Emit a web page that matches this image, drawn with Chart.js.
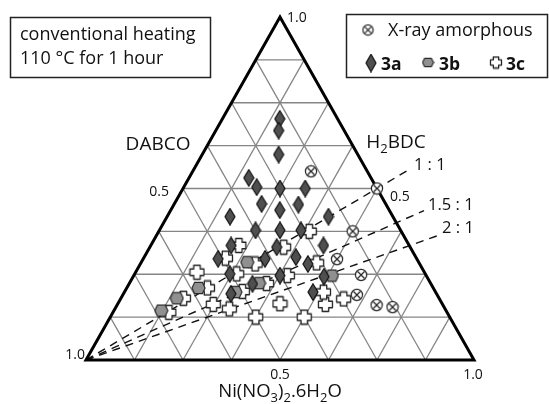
<!DOCTYPE html>
<html>
<head>
<meta charset="utf-8">
<script src="https://cdn.jsdelivr.net/npm/chart.js@4/dist/chart.umd.min.js"></script>
<style>
  html, body { margin: 0; padding: 0; background: #fff; }
  #wrap { width: 549px; height: 404px; position: relative; }
</style>
</head>
<body>
<div id="wrap"><canvas id="c" width="549" height="404"></canvas></div>
<script>
// Compositions as [Ni(NO3)2·6H2O, H2BDC] mole fractions; DABCO = 1 - Ni - H2BDC
const sample3a = [
  [0.148, 0.703], [0.162, 0.669], [0.197, 0.599], [0.154, 0.531], [0.188, 0.504],
  [0.250, 0.500], [0.315, 0.500], [0.225, 0.455], [0.281, 0.437], [0.321, 0.453],
  [0.162, 0.418], [0.416, 0.418], [0.248, 0.378], [0.311, 0.378], [0.365, 0.378],
  [0.207, 0.334], [0.327, 0.329], [0.445, 0.334], [0.193, 0.295], [0.314, 0.295],
  [0.391, 0.300], [0.432, 0.280], [0.245, 0.251], [0.377, 0.246], [0.492, 0.243],
  [0.318, 0.222], [0.277, 0.193], [0.486, 0.198]
];
const sample3b = [
  [0.273, 0.285], [0.334, 0.224], [0.286, 0.198], [0.511, 0.246],
  [0.185, 0.210], [0.144, 0.180], [0.122, 0.144]
];
const sample3c = [
  [0.158, 0.256], [0.208, 0.210], [0.161, 0.180], [0.144, 0.139], [0.247, 0.162],
  [0.295, 0.149], [0.375, 0.125], [0.500, 0.125], [0.418, 0.164], [0.536, 0.162],
  [0.575, 0.178], [0.263, 0.251], [0.303, 0.200], [0.354, 0.223], [0.396, 0.246],
  [0.296, 0.280], [0.211, 0.297], [0.227, 0.334], [0.345, 0.329], [0.388, 0.375],
  [0.453, 0.283], [0.513, 0.198]
];
const amorphous = [
  [0.305, 0.550], [0.500, 0.500], [0.500, 0.375], [0.500, 0.294],
  [0.585, 0.248], [0.603, 0.190], [0.669, 0.160], [0.713, 0.154]
];

// Grid every 1/8 along each component
const gridTicks = [0.125, 0.25, 0.375, 0.5, 0.625, 0.75, 0.875];

// Ni : H2BDC ratio guides drawn from the DABCO corner
const ratioValues = [1, 1.5, 2];
const ratioLabels = ['1 : 1', '1.5 : 1', '2 : 1'];
const ratioReach = [1.113, 1.089, 1.089];

// Corner / edge tick labels
const cornerLabel = '1.0';
const halfLabel = '0.5';

const axisNames = { ni: 'Ni(NO3)2.6H2O', dabco: 'DABCO', bdc: 'H2BDC' };
const legendNames = ['X-ray amorphous', '3a', '3b', '3c'];
const conditionLines = ['conventional heating', '110 \u00B0C for 1 hour'];

// ternary -> cartesian (base = 1, height = 1 on the plot scales)
function toXY(p) { return { x: p[0] + p[1] / 2, y: p[1] }; }
function seg(a, b) { return [toXY(a), toXY(b)]; }

// ---- marker images ----
function makeCanvas(w, h, draw) {
  const c = document.createElement('canvas');
  c.width = w; c.height = h;
  draw(c.getContext('2d'));
  return c;
}
function diamond(w, h) {
  return makeCanvas(w, h, ctx => {
    ctx.beginPath();
    ctx.moveTo(w / 2, 0.8); ctx.lineTo(w - 1, h / 2); ctx.lineTo(w / 2, h - 0.8); ctx.lineTo(1, h / 2);
    ctx.closePath();
    ctx.fillStyle = '#4f4f4f'; ctx.fill();
    ctx.lineWidth = 1.2; ctx.strokeStyle = '#111'; ctx.stroke();
  });
}
function hexagon(w, h) {
  return makeCanvas(w, h, ctx => {
    const q = w * 0.24;
    ctx.beginPath();
    ctx.moveTo(1, h / 2); ctx.lineTo(q, 1.3); ctx.lineTo(w - q, 1.3);
    ctx.lineTo(w - 1, h / 2); ctx.lineTo(w - q, h - 1.3); ctx.lineTo(q, h - 1.3);
    ctx.closePath();
    ctx.fillStyle = '#909090'; ctx.fill();
    ctx.lineWidth = 1.2; ctx.strokeStyle = '#2a2a2a'; ctx.stroke();
  });
}
function plusMark(s) {
  return makeCanvas(s, s, ctx => {
    const c = s / 2, h = s / 2 - 1.5, a = s * 0.19;
    ctx.beginPath();
    ctx.moveTo(c - a, c - h); ctx.lineTo(c + a, c - h); ctx.lineTo(c + a, c - a);
    ctx.lineTo(c + h, c - a); ctx.lineTo(c + h, c + a); ctx.lineTo(c + a, c + a);
    ctx.lineTo(c + a, c + h); ctx.lineTo(c - a, c + h); ctx.lineTo(c - a, c + a);
    ctx.lineTo(c - h, c + a); ctx.lineTo(c - h, c - a); ctx.lineTo(c - a, c - a);
    ctx.closePath();
    ctx.fillStyle = '#fff'; ctx.fill();
    ctx.lineJoin = 'round';
    ctx.lineWidth = 1.3; ctx.strokeStyle = '#222'; ctx.stroke();
  });
}
function otimes(s) {
  return makeCanvas(s, s, ctx => {
    const c = s / 2, r = s / 2 - 1.4, k = r * 0.62;
    ctx.beginPath(); ctx.arc(c, c, r, 0, Math.PI * 2);
    ctx.fillStyle = '#fff'; ctx.fill();
    ctx.lineWidth = 1.2; ctx.strokeStyle = '#222'; ctx.stroke();
    ctx.beginPath();
    ctx.moveTo(c - k, c - k); ctx.lineTo(c + k, c + k);
    ctx.moveTo(c + k, c - k); ctx.lineTo(c - k, c + k);
    ctx.stroke();
  });
}
const diamondImg = diamond(12, 18);
const hexImg = hexagon(15, 14);
const crossImg = plusMark(17);
const otimesImg = otimes(14);
const legDiamond = diamond(12, 19);
const legHex = hexagon(13, 11);
const legCross = plusMark(14);
const legOtimes = otimes(13);

// ---- datasets ----
const datasets = [];
function lineSet(points, color, width, dash, order) {
  datasets.push({
    data: points, showLine: true, borderColor: color, borderWidth: width,
    borderDash: dash || [], pointRadius: 0, fill: false, tension: 0,
    clip: false, order: order
  });
}
gridTicks.forEach(v => {
  lineSet(seg([0, v], [1 - v, v]), '#858585', 1.3, null, 30);
  lineSet(seg([v, 0], [v, 1 - v]), '#858585', 1.3, null, 30);
  lineSet(seg([1 - v, 0], [0, 1 - v]), '#858585', 1.3, null, 30);
});
ratioValues.forEach((r, i) => {
  const ni = r / (r + 1), bdc = 1 / (r + 1), s = ratioReach[i];
  lineSet(seg([0, 0], [ni * s, bdc * s]), '#111', 1.4, [8, 6], 20);
});
lineSet([toXY([0, 0]), toXY([1, 0]), toXY([0, 1]), toXY([0, 0]), toXY([1, 0])], '#000', 3, null, 15);

function markerSet(points, img, order) {
  datasets.push({
    data: points.map(toXY), pointStyle: img, pointRadius: 6, showLine: false,
    clip: false, order: order
  });
}
markerSet(sample3c, crossImg, 6);
markerSet(sample3b, hexImg, 4);
markerSet(sample3a, diamondImg, 2);
markerSet(amorphous, otimesImg, 1);

// ---- text, boxes, legend ----
const FONT = '"Open Sans", "DejaVu Sans", sans-serif';
function richText(ctx, parts, x, y, size, align) {
  // parts: [text, isSub]
  let w = 0;
  parts.forEach(p => {
    ctx.font = (p[1] ? Math.round(size * 0.7) : size) + 'px ' + FONT;
    w += ctx.measureText(p[0]).width;
  });
  let cx = align === 'center' ? x - w / 2 : x;
  ctx.textAlign = 'left';
  parts.forEach(p => {
    ctx.font = (p[1] ? Math.round(size * 0.7) : size) + 'px ' + FONT;
    ctx.fillText(p[0], cx, p[1] ? y + size * 0.28 : y);
    cx += ctx.measureText(p[0]).width;
  });
}

const decor = {
  id: 'decor',
  afterDraw(chart) {
    const ctx = chart.ctx;
    const sx = chart.scales.x, sy = chart.scales.y;
    const P = p => { const q = toXY(p); return [sx.getPixelForValue(q.x), sy.getPixelForValue(q.y)]; };
    ctx.save();
    ctx.fillStyle = '#111';
    ctx.textBaseline = 'alphabetic';

    // tick labels at corners and mid-edges
    ctx.font = '14px ' + FONT;
    const top = P([0, 1]), bl = P([0, 0]), br = P([1, 0]);
    ctx.textAlign = 'left';
    ctx.fillText(cornerLabel, top[0] + 7, top[1] + 5);
    ctx.textAlign = 'right';
    ctx.fillText(cornerLabel, bl[0] - 1, bl[1] - 1);
    ctx.textAlign = 'center';
    ctx.fillText(halfLabel, P([0.5, 0])[0], bl[1] + 19);
    ctx.fillText(cornerLabel, br[0] - 1, br[1] + 19);
    const lm = P([0, 0.5]), rm = P([0.5, 0.5]);
    ctx.textAlign = 'right';
    ctx.fillText(halfLabel, lm[0] - 14, lm[1] + 7);
    ctx.textAlign = 'left';
    ctx.fillText(halfLabel, rm[0] + 13, rm[1] + 12);

    // component names
    ctx.font = '19px ' + FONT;
    ctx.textAlign = 'center';
    ctx.fillText(axisNames.dabco, 158, 150);
    richText(ctx, [['H', 0], ['2', 1], ['BDC', 0]], 396, 148, 19, 'center');
    richText(ctx, [['Ni(NO', 0], ['3', 1], [')', 0], ['2', 1], ['.6H', 0], ['2', 1], ['O', 0]],
      (bl[0] + br[0]) / 2, 397, 18.5, 'center');

    // ratio labels at the ends of the guides
    ctx.font = '16.5px ' + FONT;
    ctx.textAlign = 'left';
    ratioValues.forEach((r, i) => {
      const s = ratioReach[i];
      const e = P([r / (r + 1) * s, 1 / (r + 1) * s]);
      ctx.fillText(ratioLabels[i], e[0] + 4, e[1] + 1 - i * 1.5);
    });

    // condition box
    ctx.lineWidth = 1.5; ctx.strokeStyle = '#222';
    ctx.strokeRect(10.5, 17.5, 200, 60);
    ctx.font = '18px ' + FONT;
    ctx.textAlign = 'left';
    ctx.fillText(conditionLines[0], 20, 40);
    ctx.fillText(conditionLines[1], 20, 64);

    // legend box
    ctx.strokeRect(346.5, 14.5, 201, 63);
    ctx.drawImage(legOtimes, 368 - 6.5, 30 - 6.5);
    ctx.font = '18px ' + FONT;
    ctx.fillText(legendNames[0], 388, 36);
    ctx.drawImage(legDiamond, 371 - 6, 63 - 9.5);
    ctx.drawImage(legHex, 428 - 6.5, 62.5 - 5.5);
    ctx.drawImage(legCross, 496 - 7, 62.5 - 7);
    ctx.font = 'bold 17.5px ' + FONT;
    ctx.fillText(legendNames[1], 381, 70);
    ctx.fillText(legendNames[2], 439, 70);
    ctx.fillText(legendNames[3], 506, 70);
    ctx.restore();
  }
};

new Chart(document.getElementById('c'), {
  type: 'scatter',
  data: { datasets },
  options: {
    responsive: false,
    animation: false,
    events: [],
    layout: { padding: { left: 86, right: 75, top: 17, bottom: 44 } },
    plugins: { legend: { display: false }, tooltip: { enabled: false } },
    scales: {
      x: { type: 'linear', min: 0, max: 1, display: false },
      y: { type: 'linear', min: 0, max: 1, display: false }
    }
  },
  plugins: [decor]
});
</script>
</body>
</html>
